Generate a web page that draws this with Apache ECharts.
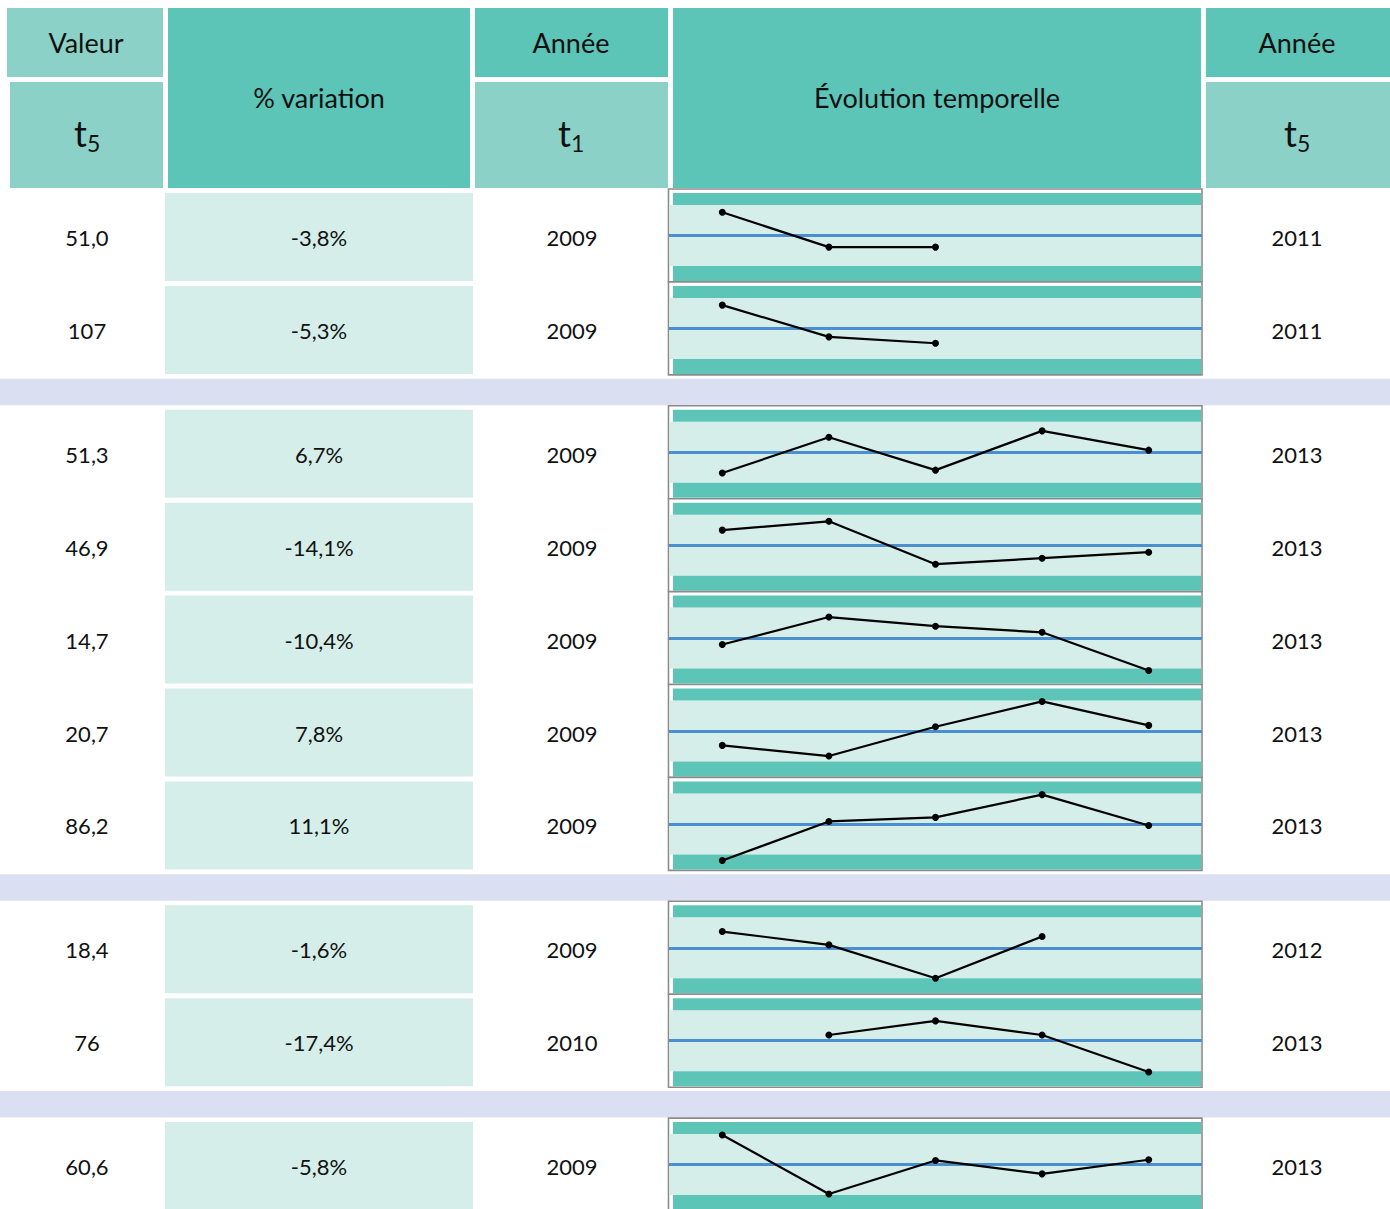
<!DOCTYPE html>
<html><head><meta charset="utf-8">
<script src="https://cdn.jsdelivr.net/npm/echarts@6/dist/echarts.min.js"></script>
<style>html,body{margin:0;padding:0;background:#fff}#c{width:1390px;height:1209px}</style>
</head><body><div id="c"></div>
<script>
// ---------- data ----------
const years = ['2009', '2010', '2011', '2012', '2013'];
const valeurT5 = ['51,0', '107', '51,3', '46,9', '14,7', '20,7', '86,2', '18,4', '76', '60,6'];
const variation = ['-3,8%', '-5,3%', '6,7%', '-14,1%', '-10,4%', '7,8%', '11,1%', '-1,6%', '-17,4%', '-5,8%'];
const anneeT1 = ['2009', '2009', '2009', '2009', '2009', '2009', '2009', '2009', '2010', '2009'];
const anneeT5 = ['2011', '2011', '2013', '2013', '2013', '2013', '2013', '2012', '2013', '2013'];
const serie1 = [53.0, 51.0, 51.0, null, null];
const serie2 = [113.0, 108.0, 107.0, null, null];
const serie3 = [48.1, 53.1, 48.5, 54.0, 51.3];
const serie4 = [54.6, 57.7, 42.7, 44.8, 46.9];
const serie5 = [16.4, 18.2, 17.6, 17.2, 14.7];
const serie6 = [19.2, 18.4, 20.6, 22.5, 20.7];
const serie7 = [77.6, 87.2, 88.2, 93.8, 86.2];
const serie8 = [18.7, 17.9, 15.9, 18.4, null];
const serie9 = [null, 92.0, 98.1, 92.0, 76.0];
const serie10 = [64.3, 55.5, 60.5, 58.5, 60.6];
const groupSizes = [2, 5, 2, 1];
// half-range of each sparkline's value axis around its mean
const halfRange = [1.75, 4.8, 4.27, 10.66, 2.0, 2.29, 7.5, 1.83, 13.2, 4.55];

const allSeries = [serie1, serie2, serie3, serie4, serie5, serie6, serie7, serie8, serie9, serie10];

// ---------- layout ----------
const DARK = '#5dc4b8', LIGHTH = '#8bd1c7', CELL = '#d5eee9', SEPC = '#dae0f2', BORDER = '#8c8c8c';
const FONT = 'Lato, "Noto Sans", sans-serif';
const ROW_H = 92.9, SEP = 31, TOP0 = 189;
const tops = [], seps = [];
let yy = TOP0;
groupSizes.forEach(n => {
  for (let k = 0; k < n; k++) { tops.push(yy); yy += ROW_H; }
  seps.push([yy + 4, yy + SEP - 0.5]);
  yy += SEP;
});

const els = [];
function rect(x, y, w, h, fill, extra) {
  els.push(Object.assign({ type: 'rect', z: 0, silent: true, shape: { x: x, y: y, width: w, height: h }, style: { fill: fill } }, extra || {}));
}
function text(x, y, t, size, align) {
  els.push({ type: 'text', z: 3, silent: true, x: x, y: y,
    style: { text: t, fill: '#111', font: size + 'px ' + FONT, fontSize: size, fontFamily: FONT,
      textAlign: align || 'center', textVerticalAlign: 'middle', align: align || 'center', verticalAlign: 'middle' } });
}
function tsub(cx, sub) {
  text(cx - 12, 133, 't', 36, 'left');
  text(cx + 1, 143, sub, 23, 'left');
}

// header
const HF = 27;
rect(7, 8, 156, 69, LIGHTH); text(86, 42, 'Valeur', HF);
rect(10, 82, 153, 106, LIGHTH); tsub(86, '5');
rect(168, 8, 302, 180, DARK); text(319, 97, '% variation', HF);
rect(475, 8, 193, 69, DARK); text(571, 42, 'Année', HF);
rect(475, 82, 193, 106, LIGHTH); tsub(570, '1');
rect(673, 8, 528, 180, DARK); text(937, 97, 'Évolution temporelle', HF);
rect(1206, 8, 184, 69, DARK); text(1297, 42, 'Année', HF);
rect(1206, 82, 184, 106, LIGHTH); tsub(1296, '5');

// separators
seps.forEach(s => rect(0, s[0], 1390, s[1] - s[0], SEPC));

const grids = [], xAxes = [], yAxes = [], seriesOpt = [];
tops.forEach((T, i) => {
  // table cells
  rect(165, T + 4, 308, 88, CELL);
  text(87, T + 48.5, valeurT5[i], 22);
  text(319, T + 48.5, variation[i], 22);
  text(572, T + 48.5, anneeT1[i], 22);
  text(1297, T + 48.5, anneeT5[i], 22);
  // sparkline frame
  rect(668.5, T, 533.5, 93, '#fff', { style: { fill: '#fff', stroke: BORDER, lineWidth: 1.6 } });
  rect(669.5, T + 16, 531.5, 61, CELL);
  rect(673, T + 4, 528, 12, DARK);
  rect(673, T + 77, 528, 15, DARK);

  const vals = allSeries[i].filter(v => v !== null);
  const mean = vals.reduce((a, b) => a + b, 0) / vals.length;
  grids.push({ left: 669, width: 533, top: T + 16, height: 61, containLabel: false });
  xAxes.push({ gridIndex: i, type: 'category', data: years, boundaryGap: true, show: false });
  yAxes.push({ gridIndex: i, type: 'value', min: mean - halfRange[i], max: mean + halfRange[i], show: false, scale: true });
  seriesOpt.push({
    type: 'line', xAxisIndex: i, yAxisIndex: i, data: allSeries[i], clip: false, z: 5,
    symbol: 'circle', symbolSize: 7, showSymbol: true, showAllSymbol: true, silent: true,
    lineStyle: { color: '#000', width: 2.2 }, itemStyle: { color: '#000' },
    markLine: {
      silent: true, symbol: 'none', label: { show: false }, animation: false,
      lineStyle: { color: '#4a8fd0', width: 3.2, type: 'solid' },
      emphasis: { disabled: true },
      data: [{ type: 'average' }]
    }
  });
});

const chart = echarts.init(document.getElementById('c'), null, { renderer: 'svg' });
chart.setOption({
  animation: false,
  backgroundColor: '#fff',
  graphic: { elements: els },
  grid: grids, xAxis: xAxes, yAxis: yAxes, series: seriesOpt
});
</script></body></html>
